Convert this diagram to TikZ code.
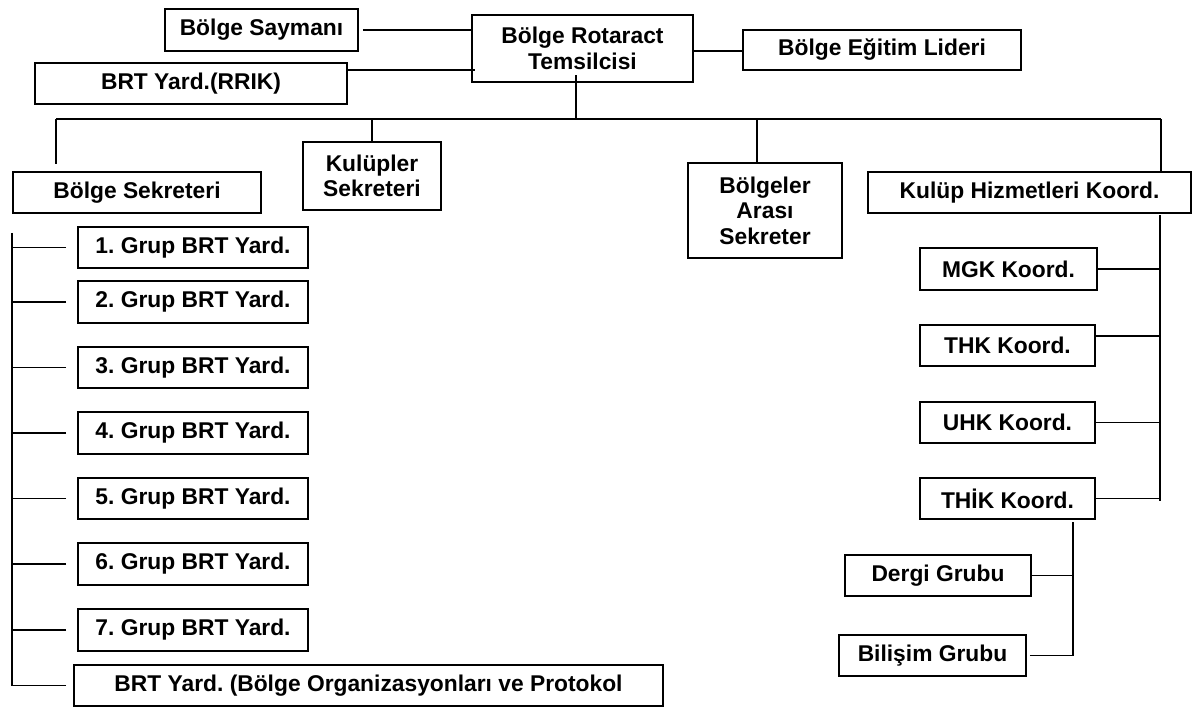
\documentclass[tikz,border=0pt]{standalone}
\usepackage{fontspec}
\setmainfont{Liberation Sans}
\frenchspacing
\newcommand{\obox}[6]{%
  \node[orgbox, minimum width={(#4-#2)*0.5pt}, minimum height={(#5-#3)*0.5pt}]
    (#1) at ({(#2+#4)/2},{(#3+#5)/2}) {#6};}
\begin{document}
\begin{tikzpicture}[x=0.5pt,y=-0.5pt,
  orgbox/.style={draw, rectangle, line width=0.95pt, inner sep=0pt, align=center,
    font=\fontsize{11.4}{12.8}\selectfont\bfseries},
  link/.style={line width=0.9pt}]
\useasboundingbox (0,0) rectangle (1193,710);
% top row
\obox{say}{165}{9}{358}{51}{Bölge Saymanı}
\obox{rot}{472}{15}{693}{82}{Bölge Rotaract\\Temsilcisi}
\obox{egt}{743}{30}{1021}{70}{Bölge Eğitim Lideri}
\obox{rrik}{35}{63}{347}{104}{BRT Yard.(RRIK)}
% second row
\obox{sek}{13}{172}{261}{213}{Bölge Sekreteri}
\obox{kul}{303}{142}{441}{210}{Kulüpler\\Sekreteri}
\obox{ara}{688}{163}{842}{258}{Bölgeler\\Arası\\Sekreter}
\obox{khk}{868}{172}{1191}{213}{Kulüp Hizmetleri Koord.}
% left column
\obox{g1}{78}{227}{308}{268}{1. Grup BRT Yard.}
\obox{g2}{78}{281}{308}{323}{2. Grup BRT Yard.}
\obox{g3}{78}{347}{308}{388}{3. Grup BRT Yard.}
\obox{g4}{78}{412}{308}{454}{4. Grup BRT Yard.}
\obox{g5}{78}{478}{308}{519}{5. Grup BRT Yard.}
\obox{g6}{78}{543}{308}{585}{6. Grup BRT Yard.}
\obox{g7}{78}{609}{308}{651}{7. Grup BRT Yard.}
\obox{org}{74}{665}{663}{706}{BRT Yard. (Bölge Organizasyonları ve Protokol}
% right column
\obox{mgk}{920}{248}{1097}{290}{MGK Koord.}
\obox{thk}{920}{325}{1095}{366}{THK Koord.}
\obox{uhk}{920}{402}{1095}{443}{UHK Koord.}
\obox{thik}{920}{478}{1095}{519}{THİK Koord.}
\obox{dergi}{845}{555}{1031}{596}{Dergi Grubu}
\obox{bil}{839}{635}{1026}{676}{Bilişim Grubu}
% connectors top
\draw[link] ([xshift=2pt]say.east) -- (say.east -| rot.west);
\draw[link] (rrik.east |- 0,70) -- ([xshift=2pt]rot.west |- 0,70);
\draw[link] (rot.east |- 0,51) -- (egt.west |- 0,51);
\coordinate (busL) at (56,119);
\coordinate (busR) at (1161,119);
\coordinate (rj) at (576,119);
\draw[link] (busL) -- (busR);
\draw[link] (rj) -- (rj |- 0,75);
\draw[link] (busL) -- (56,164);
\draw[link] (kul.north |- busL) -- (kul.north);
\draw[link] (757,119) -- (ara.north -| 757,0);
\draw[link] (busR) -- (khk.north -| busR);
% left column connectors
\coordinate (lt) at (12,233);
\draw[link] (lt) -- (lt |- org.west);
\foreach \n in {g1,g2,g3,g4,g5,g6,g7}
  \draw[link] ([xshift=-5.5pt]\n.west) -- (lt |- \n.west);
\draw[link] ([xshift=-3.5pt]org.west) -- (lt |- org.west);
% right column connectors
\coordinate (rv) at (1160,215);
\draw[link] (rv) -- (rv |- 0,501);
\draw[link] (mgk.east) -- (rv |- mgk.east);
\draw[link] (thk.east |- 0,336) -- (rv |- 0,336);
\draw[link] (uhk.east) -- (rv |- uhk.east);
\draw[link] (thik.east) -- (rv |- thik.east);
\coordinate (tv) at (1073,522);
\draw[link] (tv) -- (tv |- bil.east);
\draw[link] (dergi.east) -- (tv |- dergi.east);
\draw[link] ([xshift=1.5pt]bil.east) -- (tv |- bil.east);
\end{tikzpicture}
\end{document}
